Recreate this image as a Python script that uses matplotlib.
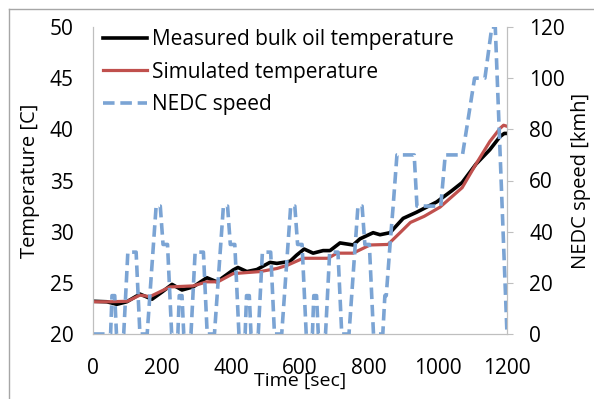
"""Measured vs simulated bulk oil temperature over the NEDC cycle.
"""
import matplotlib
matplotlib.use('Agg')
import matplotlib.pyplot as plt
from matplotlib.lines import Line2D

plt.rcParams['font.family'] = ['Open Sans', 'DejaVu Sans']

# measured bulk oil temperature [C]
meas_t = [0, 40, 69, 98, 136, 171, 200, 229, 258, 290, 330, 359, 406, 420, 446,
          475, 513, 533, 552, 571, 590, 612, 638, 667, 687, 716, 754, 774, 812,
          832, 861, 899, 938, 996, 1040, 1070, 1110, 1150, 1180, 1192, 1200]
meas_T = [23.2, 23.15, 22.9, 23.15, 23.9, 23.4, 24.1, 24.85, 24.3, 24.6, 25.5,
          25.1, 26.25, 26.5, 26.1, 26.3, 27.0, 26.9, 27.0, 27.1, 27.7, 28.3,
          27.9, 28.15, 28.15, 28.9, 28.7, 29.3, 29.9, 29.7, 29.9, 31.3, 31.9,
          32.9, 34.0, 34.8, 36.6, 38.0, 39.3, 39.6, 39.6]

# simulated temperature [C]
sim_t = [0, 49, 100, 136, 165, 223, 290, 330, 362, 406, 484, 533, 562, 609,
         681, 707, 754, 803, 855, 890, 920, 960, 1006, 1070, 1110, 1150, 1180,
         1190, 1200]
sim_T = [23.15, 23.15, 23.2, 23.8, 23.65, 24.6, 24.7, 25.1, 25.1, 25.9, 26.1,
         26.4, 26.7, 27.4, 27.4, 27.9, 27.9, 28.7, 28.75, 29.9, 30.9, 31.5,
         32.4, 34.3, 36.6, 38.8, 40.1, 40.4, 40.3]

# NEDC speed [km/h] (breakpoints)
speed_t = [0, 51, 55, 63, 68, 89, 101, 125, 136, 157, 183, 195, 203, 216, 228,
           246, 250, 258, 263, 284, 296, 320, 331, 352, 378, 390, 398, 411, 423,
           441, 445, 453, 458, 479, 491, 515, 526, 547, 573, 585, 593, 606, 618,
           636, 640, 648, 653, 674, 686, 710, 721, 742, 768, 780, 788, 801, 813,
           840, 846, 850, 861, 870, 881, 931, 939, 1008, 1021, 1071, 1106,
           1136, 1156, 1166, 1200]
speed_v = [0, 0, 15, 15, 0, 0, 32, 32, 0, 0, 50, 50, 35, 35, 0,
           0, 15, 15, 0, 0, 32, 32, 0, 0, 50, 50, 35, 35, 0,
           0, 15, 15, 0, 0, 32, 32, 0, 0, 50, 50, 35, 35, 0,
           0, 15, 15, 0, 0, 32, 32, 0, 0, 50, 50, 35, 35, 0,
           0, 15, 15, 35, 50, 70, 70, 50, 50, 70, 70, 100,
           100, 120, 120, 0]

fig = plt.figure(figsize=(5.94, 3.99), dpi=100)
# light frame around the chart area (only left and top edges are in view)
fig.lines.append(Line2D([8.5 / 594, 8.5 / 594], [0, 390.5 / 399],
                        transform=fig.transFigure, color='#A6A6A6', lw=1.0))
fig.lines.append(Line2D([8.5 / 594, 1], [390.5 / 399, 390.5 / 399],
                        transform=fig.transFigure, color='#A6A6A6', lw=1.0))

ax = fig.add_axes([93 / 594, 65 / 399, 414 / 594, 307 / 399])
ax2 = ax.twinx()

l1, = ax.plot(meas_t, meas_T, color='black', linewidth=2.6,
              label='Measured bulk oil temperature')
l2, = ax.plot(sim_t, sim_T, color='#C0504D', linewidth=2.3,
              label='Simulated temperature')
l3, = ax2.plot(speed_t, speed_v, color='#7BA4D4', linewidth=2.6,
               linestyle=(0, (3.2, 1.6)), label='NEDC speed')

ax.set_xlim(0, 1200)
ax.set_ylim(20, 50)
ax2.set_ylim(0, 120)
ax.set_xticks(range(0, 1201, 200))
ax.set_yticks(range(20, 51, 5))
ax2.set_yticks(range(0, 121, 20))

for a in (ax, ax2):
    a.spines['top'].set_visible(False)
    for s in ('left', 'right', 'bottom'):
        a.spines[s].set_color('#BFBFBF')
ax.tick_params(axis='y', length=0, labelsize=15, pad=14)
ax.tick_params(axis='x', length=0, labelsize=15, pad=17)
ax2.tick_params(axis='y', length=4, color='#BFBFBF', labelsize=15, pad=12)

ax.set_xlabel('Time [sec]', fontsize=14, labelpad=-5)
ax.set_ylabel('Temperature [C]', fontsize=14.5, labelpad=7)
ax2.set_ylabel('NEDC speed [kmh]', fontsize=14.5, labelpad=4)

ax2.legend(handles=[l1, l2, l3], loc='upper left', frameon=False,
           fontsize=15, handlelength=2.1, handletextpad=0.25,
           labelspacing=0.55, borderaxespad=0.0,
           bbox_to_anchor=(0.005, 1.02))

fig.savefig('out.png', dpi=100)
